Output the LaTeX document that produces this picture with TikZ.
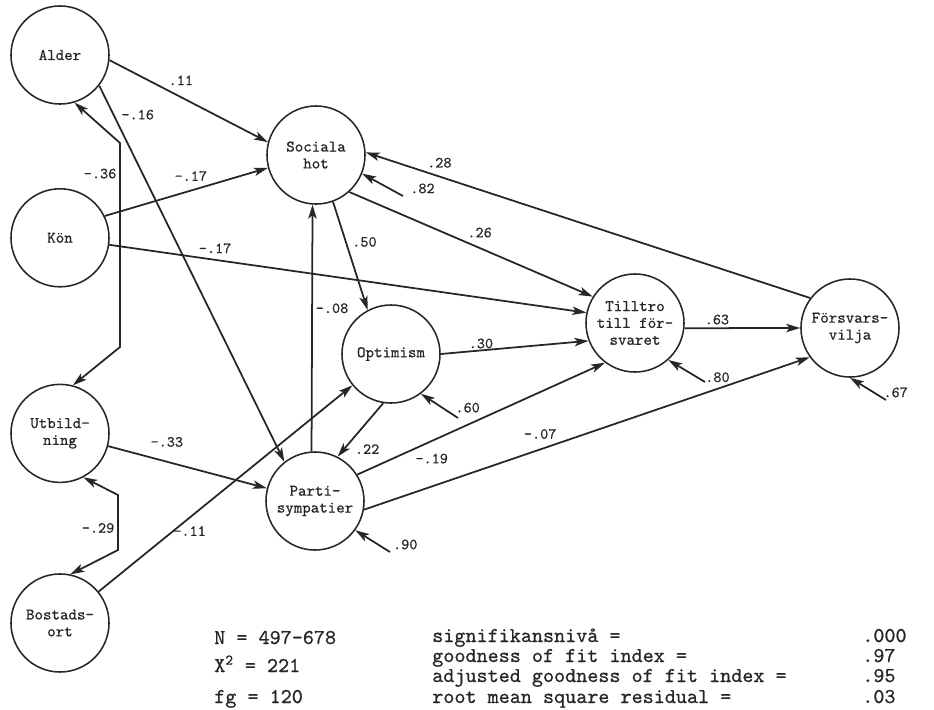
\documentclass[tikz,border=0pt]{standalone}
\usepackage{fontspec}
\newfontfamily\typew{lmmono10-regular}[Extension=.otf, FakeBold=0.7]
\usepackage{tikz}
\usetikzlibrary{positioning}
\usetikzlibrary{arrows.meta}

\begin{document}
\begin{tikzpicture}
		[x=0.025cm, y=-0.025cm, black!85,
		latent/.style={circle, draw, line width=1.1pt, minimum size=2.45cm, inner sep=0pt, align=center, font=\typew\fontsize{11.5}{12}\selectfont},
		arr/.style={-{Stealth[length=10pt,width=6pt,inset=2.5pt]}, line width=1.25pt},
		corr/.style={{Stealth[length=10pt,width=6pt,inset=2.5pt]}-{Stealth[length=10pt,width=6pt,inset=2.5pt]}, line width=1.25pt},
		lbl/.style={auto, inner sep=2pt, font=\typew\fontsize{11}{12}\selectfont},
		reslbl/.style={anchor=base west, inner sep=0pt, font=\typew\fontsize{11}{12}\selectfont},
		statline/.style={anchor=base west, inner sep=0pt, font=\typew\fontsize{15}{16}\selectfont}]
		\useasboundingbox (0,0) rectangle (934,710);

		\node[latent] (alder) at (60,55) {Alder};
		\node[latent, below=2.08cm of alder] (kon) {Kön};
		\node[latent, below=2.4cm of kon] (utb) {Utbild-\\ning};
		\node[latent, below=2.25cm of utb] (bost) {Bostads-\\ort};
		\node[latent] (soc) at (316,155) {Sociala\\hot};
		\node[latent] (opt) at (391,354) {Optimism};
		\node[latent] (parti) at (315,501) {Parti-\\sympatier};
		\node[latent] (tilltro) at (635,323) {Tilltro\\till för-\\svaret};
		\node[latent] (forsv) at (850,328) {Försvars-\\vilja};

		\draw[arr] (alder.-6) -- node[lbl, pos=.35] {.11} (soc.165);
		\draw[arr] (alder.-38) -- node[lbl, pos=.1] {-.16} (parti.128);
		\draw[arr] (kon.26) -- node[lbl, pos=.65] {-.17} (soc.195);
		\draw[arr] (kon) -- node[lbl, pos=.18] {-.17} (tilltro.168);
		\draw[arr] (utb) -- node[lbl, above, pos=.37, yshift=8pt] {-.33} (parti);
		\draw[arr] (bost) -- node[lbl, right, pos=.28, yshift=2pt] {-.11} (opt);
		\draw[arr] (parti.94) -- node[lbl, swap, pos=.58] {-.08} (soc.266);
		\draw[arr] (soc.-70) -- node[lbl, pos=.45] {.50} (opt.118);
		\draw[arr] (soc.-48) -- node[lbl, pos=.47] {.26} (tilltro.148);
		\draw[arr] (forsv.143) -- node[lbl, swap, pos=.87] {.28} (soc.3);
		\draw[arr] (opt.east) -- node[lbl, inner sep=0pt, pos=.36] {.30} (tilltro.-159);
		\draw[arr] (opt.-99) -- node[lbl, pos=.7] {.22} (parti.63);
		\draw[arr] (parti.32) -- node[lbl, swap, pos=.22] {-.19} (tilltro.-127);
		\draw[arr] (parti.-10) -- node[lbl, pos=.44] {-.07} (forsv.-144);
		\draw[arr] (tilltro.-6) -- node[lbl, pos=.28] {.63} (forsv.west);

		% correlations on the left
		\coordinate (c1) at (120,143);
		\coordinate (c2) at (120,347);
		\draw[corr] (alder.-73) -- (c1) -- node[lbl, swap, pos=.15] {-.36} (c2) -- (utb.75);
		\coordinate (c3) at (118,495);
		\coordinate (c4) at (118,550);
		\draw[corr] (utb.-62) -- (c3) -- node[lbl, swap, pos=.6] {-.29} (c4) -- (bost.78);

		% residuals
		\coordinate (e82) at (403,196);
		\coordinate (e60) at (458,418);
		\coordinate (e90) at (390,552);
		\coordinate (e80) at (705,382);
		\coordinate (e67) at (886,400);
		\draw[arr] (e82) -- (soc.-22);
		\draw[arr] (e60) -- (opt.-53);
		\draw[arr] (e90) -- (parti.-36);
		\draw[arr] (e80) -- (tilltro.-48);
		\draw[arr] (e67) -- (forsv.-90);
		\node[reslbl, xshift=5pt, yshift=2pt] (l82) at (e82) {.82};
		\node[reslbl, xshift=-2pt, yshift=4pt] (l60) at (e60) {.60};
		\node[reslbl, xshift=2pt, yshift=2pt] (l90) at (e90) {.90};
		\node[reslbl, xshift=0pt, yshift=0pt] (l80) at (e80) {.80};
		\node[reslbl, xshift=-2pt, yshift=2pt] (l67) at (e67) {.67};

		% fit statistics
		\node[statline] (nn) at (214,644) {N = 497-678};
		\node[statline] (chi) at (214,672) {X\textsuperscript{2} = 221};
		\node[statline] (fg) at (214,703) {fg = 120};
		\node[statline] (sig) at (432,642) {signifikansnivå =};
		\node[statline] (gfi) at (432,662) {goodness of fit index =};
		\node[statline] (agfi) at (432,682) {adjusted goodness of fit index =};
		\node[statline] (rmsr) at (432,703) {root mean square residual =};
		\node[statline] (vsig) at (862,642) {.000};
		\node[statline] (vgfi) at (862,662) {.97};
		\node[statline] (vagfi) at (862,682) {.95};
		\node[statline] (vrmsr) at (862,703) {.03};
	\end{tikzpicture}
\end{document}
